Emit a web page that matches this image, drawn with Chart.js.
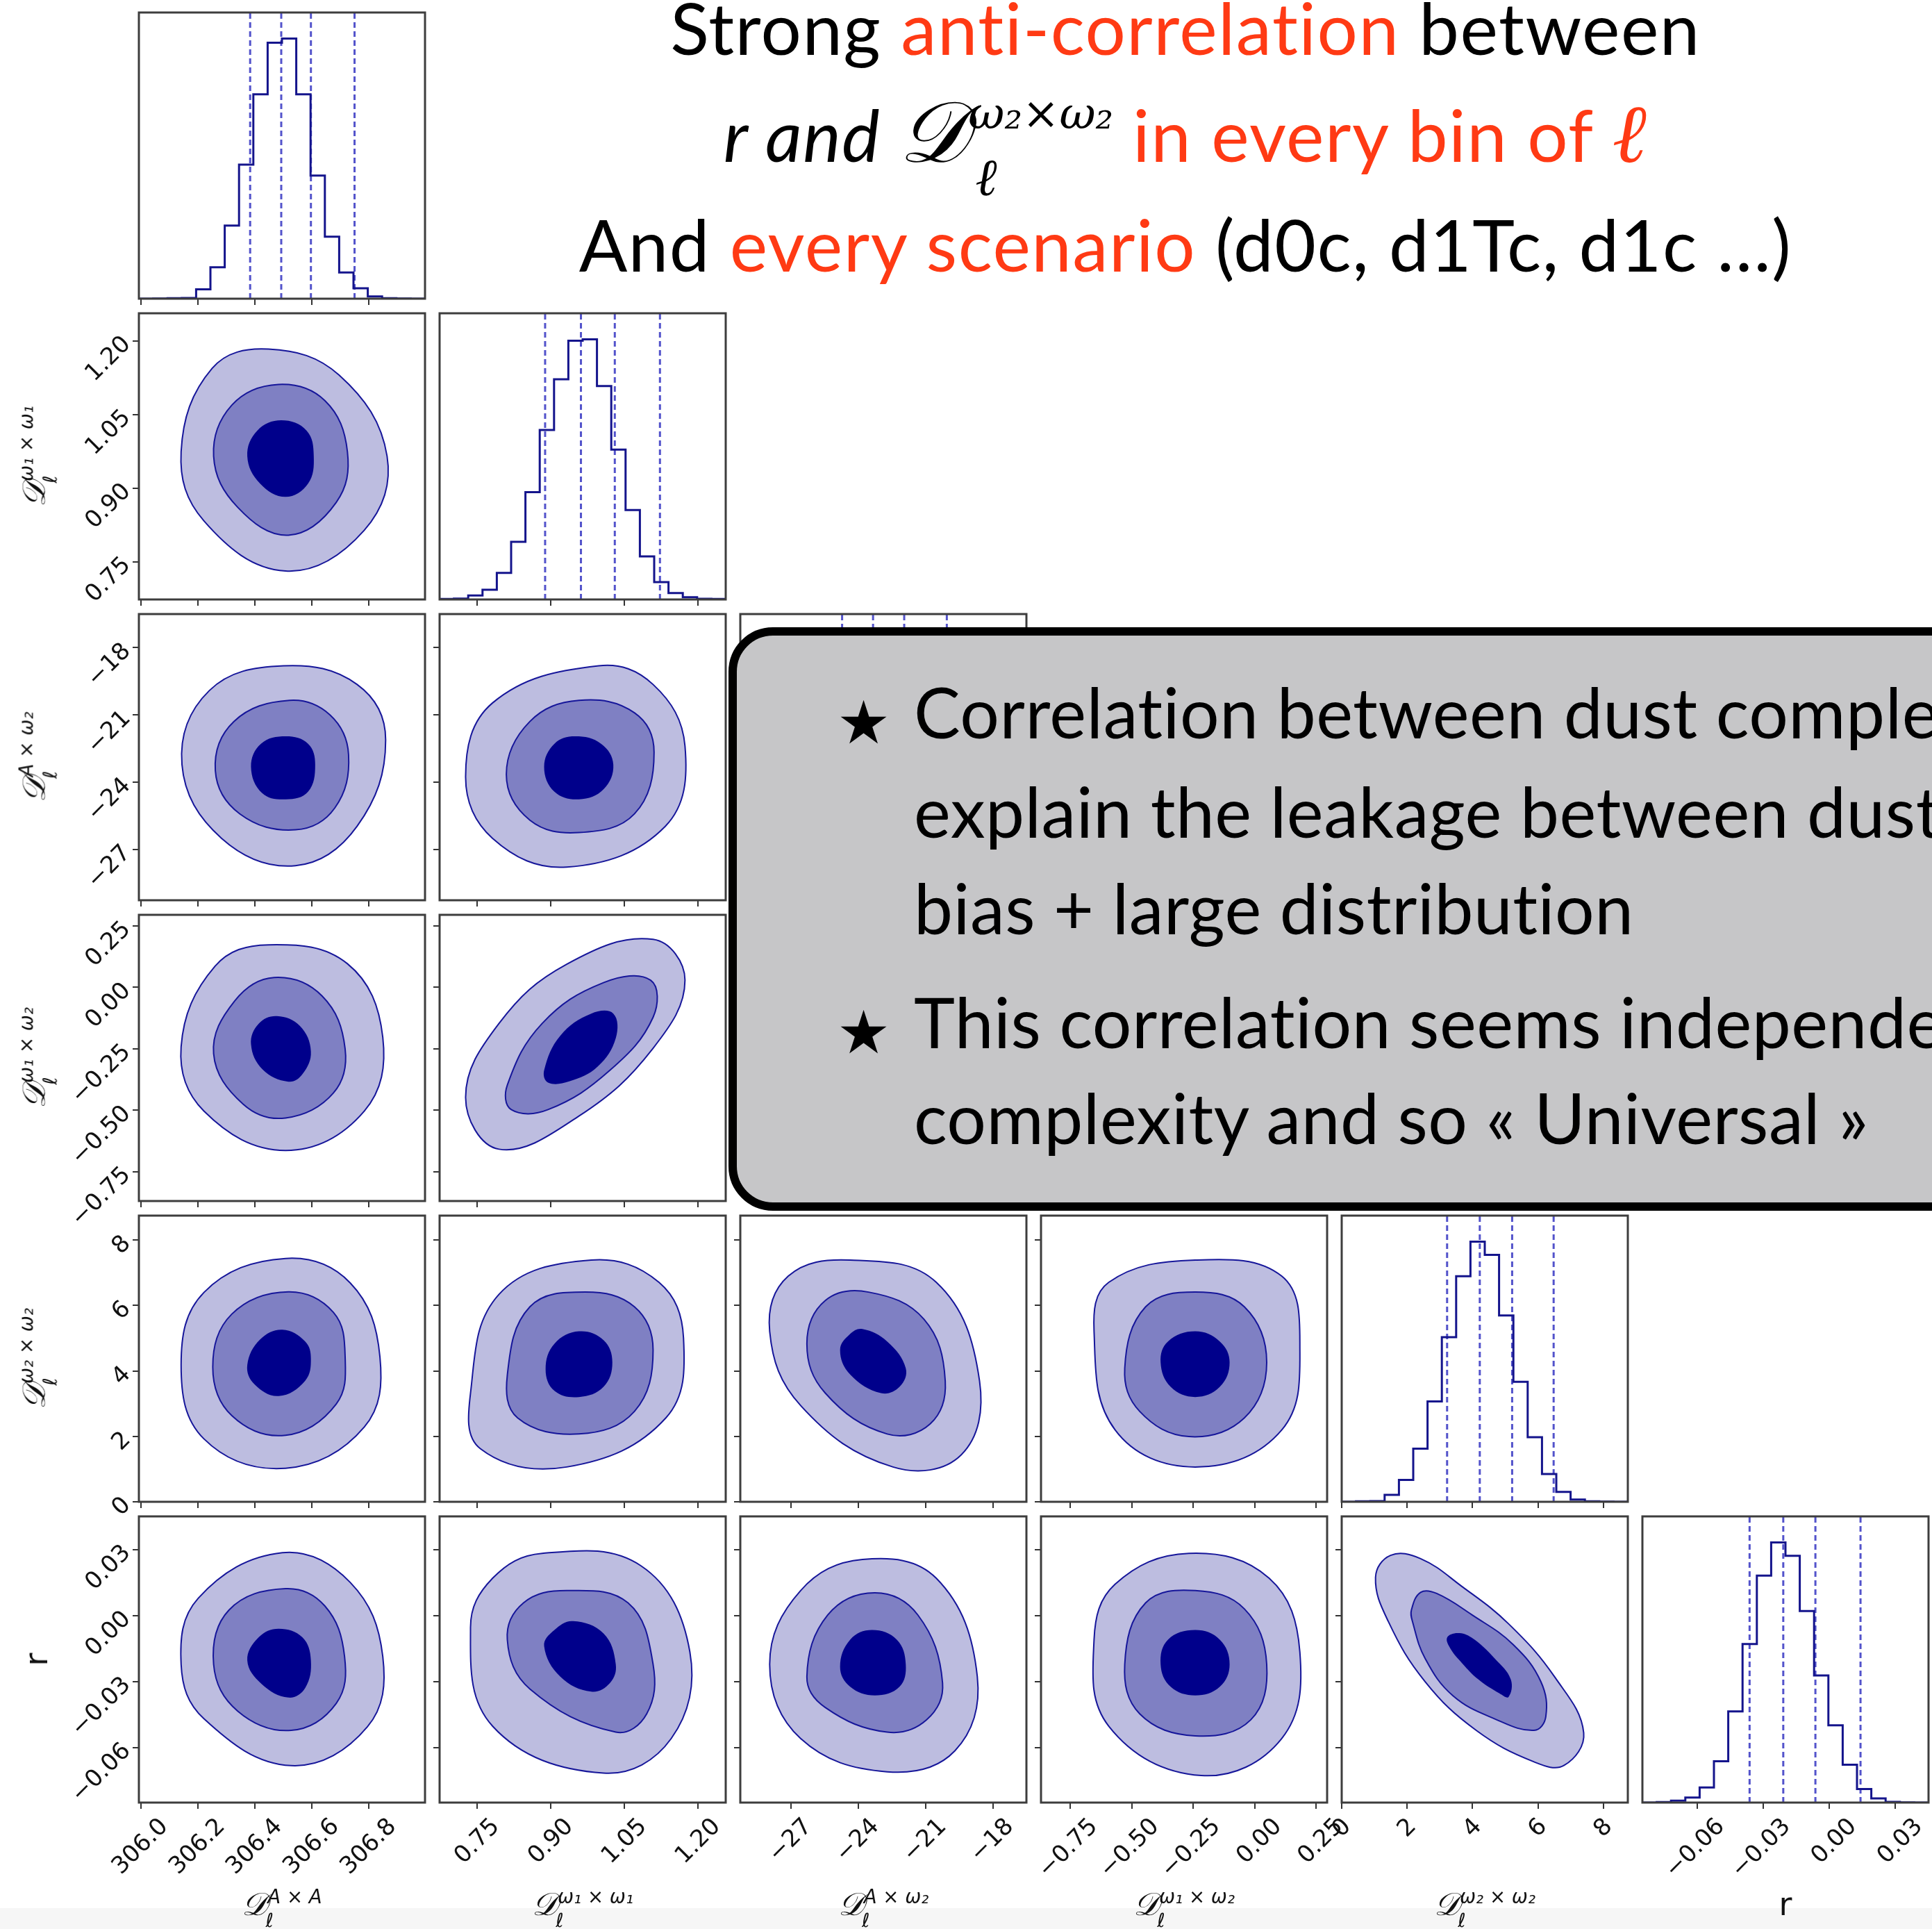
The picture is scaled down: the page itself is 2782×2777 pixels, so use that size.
<!DOCTYPE html>
<html>
<head>
<meta charset="utf-8">
<script src="https://cdn.jsdelivr.net/npm/chart.js@4.4.1/dist/chart.umd.min.js"></script>
<style>
  html, body { margin: 0; padding: 0; background: #fff; }
  #page { position: relative; width: 2782px; height: 2777px; overflow: hidden; background: #fff; }
  canvas.panel { position: absolute; z-index: 1; }
  #footer { position: absolute; left: 0; top: 2747px; width: 2782px; height: 30px; background: #f6f6f6; z-index: 0; }
  .tl { position: absolute; left: 707px; width: 2000px; text-align: center; font-family: Lato, 'Noto Sans', sans-serif;
        font-weight: 400; font-size: 103px; line-height: 103px; letter-spacing: 1.5px; white-space: nowrap; color: #000; z-index: 3; }
  .red { color: #ff3a14; }
  .mi { font-style: italic; }
  .cal { font-family: 'DejaVu Serif', serif; font-style: italic; }
  .ell { font-family: 'Liberation Serif', serif; font-style: italic; }
  .tl .cal { font-size: 1.2em; line-height: 0; }
  .tl .red .ell { font-size: 1.15em; line-height: 0; }
  .tl .ss { position: relative; display: inline-block; font-size: 0.62em; font-family: 'DejaVu Serif', serif; font-style: italic; letter-spacing: 0; }
  .tl .ss .sp { position: relative; top: -0.75em; }
  .tl .ss .sb { position: absolute; left: 10px; top: 58px; font-size: 75px; line-height: 75px; }
  #note { position: absolute; left: 1049px; top: 903px; width: 1900px; height: 840px; box-sizing: border-box;
          background: #c6c6c8; border: 12px solid #000; border-radius: 64px; z-index: 5; }
  .nl { position: absolute; font-family: Lato, 'Noto Sans', sans-serif; font-weight: 400; font-size: 100px; line-height: 100px;
        letter-spacing: 0.5px; white-space: nowrap; color: #000; z-index: 6; }
  .star { font-family: 'DejaVu Sans', sans-serif; font-size: 86px; letter-spacing: 0; }
  .ax { position: absolute; font-family: 'DejaVu Sans', sans-serif; font-style: italic; font-size: 46px; line-height: 46px;
        white-space: nowrap; color: #111; z-index: 2; }
  .ax .cal { font-family: 'DejaVu Serif', serif; }
  .ax .ss { position: relative; display: inline-block; font-size: 0.6em; }
  .ax .ss .sp { position: relative; top: -0.62em; }
  .ax .ss .sb { position: absolute; left: -0.1em; top: 0.6em; }
  .ax.up { font-style: normal; }
</style>
</head>
<body>
<div id="page">
  <div id="footer"></div>

  <div class="tl" style="top:-12px">Strong <span class="red">anti-correlation</span> between</div>
  <div class="tl" style="top:142px"><span class="mi">r and </span><span class="cal">𝒟</span><span class="ss"><span class="sp">ω₂×ω₂</span><span class="sb ell">ℓ</span></span> <span class="red">in every bin of <span class="ell">ℓ</span></span></div>
  <div class="tl" style="top:300px">And <span class="red">every scenario</span> (d0c, d1Tc, d1c …)</div>

  <div id="note"></div>
  <div class="nl star" style="left:1205px; top:990px">★</div>
  <div class="nl" style="left:1316px; top:974px">Correlation between dust complexity</div>
  <div class="nl" style="left:1316px; top:1117px">explain the leakage between dust</div>
  <div class="nl" style="left:1316px; top:1256px">bias + large distribution</div>
  <div class="nl star" style="left:1205px; top:1436px">★</div>
  <div class="nl" style="left:1316px; top:1420px">This correlation seems independent</div>
  <div class="nl" style="left:1316px; top:1558px">complexity and so « Universal »</div>
</div>

<script>
// axis ranges shared by the column (x) and the row (y) of each parameter
const axisMin = [305.993, 0.673, -29.26, -0.87, -0.005, -0.085];
const axisMax = [306.996, 1.256, -16.5, 0.295, 8.75, 0.045];

const tickValues = [
  [306.0, 306.2, 306.4, 306.6, 306.8],
  [0.75, 0.90, 1.05, 1.20],
  [-27, -24, -21, -18],
  [-0.75, -0.50, -0.25, 0.00, 0.25],
  [0, 2, 4, 6, 8],
  [-0.06, -0.03, 0.00, 0.03]
];
const tickLabels = [
  ['306.0', '306.2', '306.4', '306.6', '306.8'],
  ['0.75', '0.90', '1.05', '1.20'],
  ['−27', '−24', '−21', '−18'],
  ['−0.75', '−0.50', '−0.25', '0.00', '0.25'],
  ['0', '2', '4', '6', '8'],
  ['−0.06', '−0.03', '0.00', '0.03']
];

// axis titles (html) for each parameter
const axisTitles = [
  '<span class="cal">𝒟</span><span class="ss"><span class="sp">A × A</span><span class="sb">ℓ</span></span>',
  '<span class="cal">𝒟</span><span class="ss"><span class="sp">ω₁ × ω₁</span><span class="sb">ℓ</span></span>',
  '<span class="cal">𝒟</span><span class="ss"><span class="sp">A × ω₂</span><span class="sb">ℓ</span></span>',
  '<span class="cal">𝒟</span><span class="ss"><span class="sp">ω₁ × ω₂</span><span class="sb">ℓ</span></span>',
  '<span class="cal">𝒟</span><span class="ss"><span class="sp">ω₂ × ω₂</span><span class="sb">ℓ</span></span>',
  'r'
];

// 1D marginals: 20 bins across the axis range
const histAxA  = [0, 1, 2, 3, 40, 135, 315, 577, 880, 1102, 1120, 880, 530, 267, 113, 45, 10, 2, 1, 0];
const histW1W1 = [2, 4, 17, 42, 115, 250, 465, 735, 955, 1122, 1128, 925, 650, 388, 187, 75, 28, 10, 3, 2];
const histW2W2 = [0, 2, 3, 30, 95, 230, 435, 713, 977, 1127, 1070, 807, 520, 280, 120, 43, 10, 2, 1, 0];
const histR    = [0, 2, 8, 22, 65, 178, 393, 683, 978, 1121, 1063, 825, 548, 333, 163, 58, 18, 3, 1, 0];

// dashed markers on the marginals
const markAxA  = [306.383, 306.492, 306.596, 306.749];
const markW1W1 = [0.888, 0.961, 1.030, 1.122];
const markAxW2 = [-24.72, -23.34, -21.95, -20.05];
const markW2W2 = [3.22, 4.22, 5.21, 6.48];
const markR    = [-0.0363, -0.021, -0.0064, 0.0141];

// 2D credible regions (outer, middle, inner), cRC = row R / column C
const c10Outer = [[306.141,0.974],[306.250,1.144],[306.447,1.183],[306.695,1.130],[306.863,0.965],[306.783,0.814],[306.507,0.731],[306.221,0.833]];
const c10Mid   = [[306.255,0.965],[306.319,1.069],[306.482,1.111],[306.645,1.078],[306.724,0.974],[306.685,0.871],[306.517,0.804],[306.339,0.861]];
const c10Inner = [[306.373,0.965],[306.408,1.017],[306.492,1.038],[306.581,1.017],[306.606,0.965],[306.586,0.909],[306.507,0.882],[306.418,0.909]];

const c20Outer = [[306.144,-23.21],[306.240,-19.91],[306.500,-18.81],[306.758,-19.64],[306.858,-22.11],[306.758,-25.96],[306.542,-27.72],[306.283,-26.50]];
const c20Mid   = [[306.261,-23.48],[306.326,-21.29],[306.521,-20.35],[306.663,-21.00],[306.728,-22.77],[306.680,-25.14],[306.542,-26.12],[306.347,-25.41]];
const c20Inner = [[306.386,-23.31],[306.421,-22.28],[306.508,-21.95],[306.586,-22.28],[306.611,-23.21],[306.586,-24.42],[306.508,-24.76],[306.425,-24.48]];

const c21Outer = [[0.726,-23.76],[0.781,-20.46],[0.997,-18.81],[1.108,-19.64],[1.173,-22.38],[1.133,-25.96],[0.932,-27.78],[0.781,-26.50]];
const c21Mid   = [[0.809,-23.65],[0.857,-21.29],[0.957,-20.35],[1.070,-20.90],[1.110,-22.66],[1.070,-25.41],[0.957,-26.24],[0.857,-25.69]];
const c21Inner = [[0.886,-23.31],[0.907,-22.28],[0.949,-21.95],[1.002,-22.28],[1.027,-23.21],[1.007,-24.31],[0.957,-24.76],[0.907,-24.42]];

const c30Outer = [[306.141,-0.242],[306.260,0.086],[306.447,0.173],[306.724,0.096],[306.848,-0.204],[306.783,-0.504],[306.507,-0.664],[306.221,-0.504]];
const c30Mid   = [[306.255,-0.270],[306.329,-0.055],[306.467,0.040],[306.635,-0.035],[306.716,-0.251],[306.675,-0.430],[306.507,-0.532],[306.359,-0.476]];
const c30Inner = [[306.386,-0.232],[306.413,-0.148],[306.477,-0.117],[306.557,-0.157],[306.596,-0.261],[306.566,-0.354],[306.517,-0.384],[306.427,-0.335]];

const c31Outer = [[0.726,-0.448],[0.794,-0.147],[0.932,0.094],[1.108,0.195],[1.173,0.029],[1.108,-0.248],[0.957,-0.524],[0.794,-0.659]];
const c31Mid   = [[0.811,-0.398],[0.882,-0.147],[1.007,0.019],[1.103,0.029],[1.108,-0.122],[1.020,-0.338],[0.894,-0.498],[0.819,-0.498]];
const c31Inner = [[0.886,-0.338],[0.919,-0.197],[0.982,-0.107],[1.027,-0.107],[1.032,-0.207],[0.995,-0.323],[0.937,-0.383],[0.894,-0.388]];

const c40Outer = [[306.141,4.18],[306.221,6.40],[306.507,7.44],[306.734,6.69],[306.838,4.43],[306.783,2.28],[306.507,1.02],[306.221,1.92]];
const c40Mid   = [[306.252,4.12],[306.319,5.74],[306.517,6.42],[306.675,5.79],[306.716,4.43],[306.685,2.99],[306.507,2.03],[306.319,2.63]];
const c40Inner = [[306.373,4.18],[306.418,4.96],[306.496,5.26],[306.576,4.90],[306.596,4.37],[306.576,3.70],[306.483,3.23],[306.398,3.59]];

const c41Outer = [[0.736,3.32],[0.794,6.34],[0.982,7.39],[1.120,6.71],[1.170,5.01],[1.134,2.56],[0.932,1.06],[0.756,1.62]];
const c41Mid   = [[0.811,3.87],[0.857,5.96],[0.970,6.41],[1.070,5.96],[1.108,4.64],[1.070,2.76],[0.957,2.07],[0.832,2.56]];
const c41Inner = [[0.889,4.05],[0.907,4.83],[0.957,5.21],[1.007,4.94],[1.025,4.26],[1.007,3.51],[0.957,3.20],[0.907,3.39]];

const c42Outer = [[-27.95,5.21],[-27.12,6.90],[-24.36,7.39],[-20.52,6.71],[-18.59,3.69],[-19.41,1.43],[-22.45,1.06],[-26.57,2.94]];
const c42Mid   = [[-26.29,4.83],[-25.47,6.15],[-23.54,6.41],[-21.07,5.58],[-20.12,3.69],[-20.79,2.38],[-22.71,2.07],[-25.47,3.32]];
const c42Inner = [[-24.81,4.64],[-24.36,5.13],[-23.81,5.28],[-22.71,4.90],[-21.88,4.08],[-22.16,3.51],[-22.99,3.32],[-24.36,3.89]];

const c43Outer = [[-0.654,5.21],[-0.594,6.71],[-0.242,7.39],[0.110,6.90],[0.184,4.83],[0.110,2.19],[-0.242,1.06],[-0.568,2.19]];
const c43Mid   = [[-0.529,4.08],[-0.444,5.96],[-0.242,6.41],[-0.042,5.96],[0.049,4.26],[-0.042,2.56],[-0.268,1.99],[-0.468,2.76]];
const c43Inner = [[-0.383,4.26],[-0.353,4.90],[-0.242,5.21],[-0.142,4.90],[-0.102,4.26],[-0.142,3.51],[-0.242,3.20],[-0.342,3.51]];

const c50Outer = [[306.141,-0.0222],[306.201,0.0078],[306.496,0.0285],[306.734,0.0150],[306.848,-0.0187],[306.794,-0.0506],[306.527,-0.0682],[306.221,-0.0469]];
const c50Mid   = [[306.255,-0.0222],[306.309,0.0025],[306.507,0.0122],[306.645,0.0043],[306.714,-0.0187],[306.685,-0.0399],[306.527,-0.0522],[306.339,-0.0434]];
const c50Inner = [[306.373,-0.0204],[306.413,-0.0099],[306.483,-0.0060],[306.566,-0.0099],[306.596,-0.0204],[306.576,-0.0329],[306.517,-0.0373],[306.423,-0.0311]];

const c51Outer = [[0.736,-0.0054],[0.781,0.0169],[0.882,0.0282],[1.083,0.0226],[1.183,-0.0166],[1.145,-0.0559],[1.007,-0.0716],[0.781,-0.0503]];
const c51Mid   = [[0.811,-0.0110],[0.844,0.0057],[0.932,0.0113],[1.057,0.0057],[1.108,-0.0222],[1.095,-0.0447],[1.032,-0.0530],[0.857,-0.0334]];
const c51Inner = [[0.886,-0.0139],[0.907,-0.0066],[0.945,-0.0026],[1.007,-0.0082],[1.032,-0.0222],[1.020,-0.0307],[0.982,-0.0346],[0.919,-0.0278]];

const c52Outer = [[-27.95,-0.0222],[-26.57,0.0113],[-23.81,0.0254],[-20.52,0.0169],[-18.69,-0.0278],[-19.69,-0.0615],[-22.71,-0.0710],[-26.57,-0.0559]];
const c52Mid   = [[-26.29,-0.0278],[-25.36,0.0002],[-23.26,0.0103],[-21.34,0.0002],[-20.24,-0.0307],[-20.95,-0.0474],[-22.71,-0.0530],[-25.47,-0.0418]];
const c52Inner = [[-24.81,-0.0234],[-24.36,-0.0110],[-23.38,-0.0066],[-22.28,-0.0110],[-21.88,-0.0222],[-22.16,-0.0324],[-23.26,-0.0363],[-24.36,-0.0324]];

const c53Outer = [[-0.654,-0.0110],[-0.568,0.0142],[-0.268,0.0282],[0.059,0.0169],[0.184,-0.0166],[0.110,-0.0559],[-0.218,-0.0727],[-0.594,-0.0503]];
const c53Mid   = [[-0.529,-0.0222],[-0.444,0.0057],[-0.242,0.0113],[-0.042,0.0030],[0.049,-0.0222],[-0.016,-0.0474],[-0.242,-0.0547],[-0.468,-0.0447]];
const c53Inner = [[-0.383,-0.0222],[-0.353,-0.0110],[-0.242,-0.0066],[-0.142,-0.0110],[-0.102,-0.0222],[-0.142,-0.0324],[-0.242,-0.0363],[-0.342,-0.0324]];

const c54Outer = [[1.03,0.0173],[1.49,0.0273],[2.41,0.0258],[3.68,0.0131],[5.10,-0.0038],[6.52,-0.0281],[7.40,-0.0533],[6.80,-0.0681],[5.88,-0.0665],[4.11,-0.0522],[2.55,-0.0301],[1.42,-0.0027]];
const c54Mid   = [[2.13,0.0026],[2.41,0.0105],[2.90,0.0100],[3.97,0.0004],[5.24,-0.0132],[6.09,-0.0301],[6.24,-0.0460],[5.88,-0.0522],[4.68,-0.0470],[3.40,-0.0365],[2.55,-0.0196],[2.16,-0.0027]];
const c54Inner = [[3.22,-0.0101],[3.54,-0.0080],[3.97,-0.0101],[4.68,-0.0196],[5.17,-0.0291],[5.10,-0.0370],[4.82,-0.0354],[4.18,-0.0291],[3.68,-0.0217],[3.33,-0.0153]];

// panel grid geometry
const PANEL = 412, PITCH = 433, X0 = 200, Y0 = 18, M = 140;
// x shift that centres each rotated tick label on its tick
const xLabelShift = [34, 27, 25, 34, 8, 34];
const page = document.getElementById('page');
const note = document.getElementById('note');

// box around every panel
const frame = {
  id: 'frame',
  afterDraw(chart) {
    const { ctx, chartArea: a } = chart;
    ctx.save();
    ctx.strokeStyle = '#3d3d3d';
    ctx.lineWidth = 3;
    ctx.strokeRect(a.left, a.top, a.right - a.left, a.bottom - a.top);
    ctx.restore();
  }
};

// contour rings are closed curves: let the line element wrap around
const closeRings = {
  id: 'closeRings',
  beforeDatasetUpdate(chart, args) {
    const ds = chart.data.datasets[args.index];
    if (ds.ring && args.meta.dataset) {
      args.meta.dataset._loop = true;
      args.meta.dataset._fullLoop = true;
    }
  }
};

function makeCanvas(row, col) {
  const cv = document.createElement('canvas');
  cv.width = PANEL + 2 * M;
  cv.height = PANEL + 2 * M;
  cv.className = 'panel';
  cv.style.left = (X0 + col * PITCH - M) + 'px';
  cv.style.top = (Y0 + row * PITCH - M) + 'px';
  page.insertBefore(cv, note);
  return cv;
}

function axisOpts(i, showLabels, vertical) {
  return {
    type: 'linear',
    position: vertical ? 'left' : 'bottom',
    min: axisMin[i],
    max: axisMax[i],
    afterBuildTicks: s => { s.ticks = tickValues[i].map(v => ({ value: v })); },
    afterFit: s => {
      if (vertical) s.width = M; else s.height = M;
      s.paddingLeft = s.paddingRight = s.paddingTop = s.paddingBottom = 0;
    },
    grid: { drawOnChartArea: false, drawTicks: true, tickLength: 9, color: '#333', lineWidth: 2 },
    border: { display: false },
    ticks: {
      display: showLabels,
      autoSkip: false,
      callback: (v, k) => tickLabels[i][k],
      minRotation: 45,
      maxRotation: 45,
      padding: vertical ? 8 : 6,
      labelOffset: vertical ? 0 : xLabelShift[i],
      color: '#111',
      font: { family: 'DejaVu Sans', size: 34 }
    }
  };
}

const baseOptions = {
  responsive: false,
  animation: false,
  devicePixelRatio: 1,
  plugins: { legend: { display: false }, tooltip: { enabled: false } }
};

function contourPanel(row, col, rings) {
  const fills = ['#bdbde0', '#7f80c3', '#00008b'];
  const datasets = rings.map((pts, k) => ({
    ring: true,
    data: pts.map(([x, y]) => ({ x, y })),
    showLine: true,
    spanGaps: true,
    fill: 'shape',
    tension: 0.4,
    backgroundColor: fills[k],
    borderColor: '#16169a',
    borderWidth: k < 2 ? 2 : 0,
    pointRadius: 0,
    order: 3 - k
  }));
  new Chart(makeCanvas(row, col), {
    type: 'scatter',
    data: { datasets },
    options: {
      ...baseOptions,
      layout: { padding: { top: M, right: M, left: 0, bottom: 0 } },
      scales: { x: axisOpts(col, row === 5, false), y: axisOpts(row, col === 0, true) }
    },
    plugins: [closeRings, frame]
  });
}

function histPanel(i, counts, marks) {
  const lo = axisMin[i], hi = axisMax[i];
  const datasets = [];
  let top = 1;
  if (counts) {
    top = Math.max(...counts) * 1.1;
    const w = (hi - lo) / counts.length;
    const pts = counts.map((c, k) => ({ x: lo + k * w, y: c }));
    pts.push({ x: hi, y: counts[counts.length - 1] });
    datasets.push({
      data: pts, showLine: true, stepped: true, fill: false,
      borderColor: '#14148c', borderWidth: 3, pointRadius: 0, order: 1
    });
  }
  marks.forEach(v => datasets.push({
    data: [{ x: v, y: 0 }, { x: v, y: top }],
    showLine: true, fill: false,
    borderColor: 'rgba(40,40,190,0.8)', borderWidth: 3, borderDash: [8, 5],
    pointRadius: 0, order: 2
  }));
  new Chart(makeCanvas(i, i), {
    type: 'scatter',
    data: { datasets },
    options: {
      ...baseOptions,
      layout: { padding: { top: M, right: M, left: M, bottom: 0 } },
      scales: { x: axisOpts(i, i === 5, false), y: { display: false, min: 0, max: top } }
    },
    plugins: [frame]
  });
}

histPanel(0, histAxA, markAxA);
histPanel(1, histW1W1, markW1W1);
histPanel(2, null, markAxW2);
histPanel(4, histW2W2, markW2W2);
histPanel(5, histR, markR);

[
  [1, 0, c10Outer, c10Mid, c10Inner],
  [2, 0, c20Outer, c20Mid, c20Inner],
  [2, 1, c21Outer, c21Mid, c21Inner],
  [3, 0, c30Outer, c30Mid, c30Inner],
  [3, 1, c31Outer, c31Mid, c31Inner],
  [4, 0, c40Outer, c40Mid, c40Inner],
  [4, 1, c41Outer, c41Mid, c41Inner],
  [4, 2, c42Outer, c42Mid, c42Inner],
  [4, 3, c43Outer, c43Mid, c43Inner],
  [5, 0, c50Outer, c50Mid, c50Inner],
  [5, 1, c51Outer, c51Mid, c51Inner],
  [5, 2, c52Outer, c52Mid, c52Inner],
  [5, 3, c53Outer, c53Mid, c53Inner],
  [5, 4, c54Outer, c54Mid, c54Inner]
].forEach(([r, c, a, b, d]) => contourPanel(r, c, [a, b, d]));

// axis titles along the bottom and the left edge
axisTitles.forEach((html, i) => {
  const b = document.createElement('div');
  b.className = 'ax' + (i === 5 ? ' up' : '');
  b.innerHTML = html;
  b.style.left = (X0 + i * PITCH + PANEL / 2) + 'px';
  b.style.top = '2718px';
  b.style.transform = 'translateX(-50%)';
  page.appendChild(b);
  if (i === 0) return;
  const l = document.createElement('div');
  l.className = 'ax' + (i === 5 ? ' up' : '');
  l.innerHTML = html;
  l.style.left = '52px';
  l.style.top = (Y0 + i * PITCH + PANEL / 2) + 'px';
  l.style.transform = 'translate(-50%, -50%) rotate(-90deg)';
  page.appendChild(l);
});
</script>
</body>
</html>
